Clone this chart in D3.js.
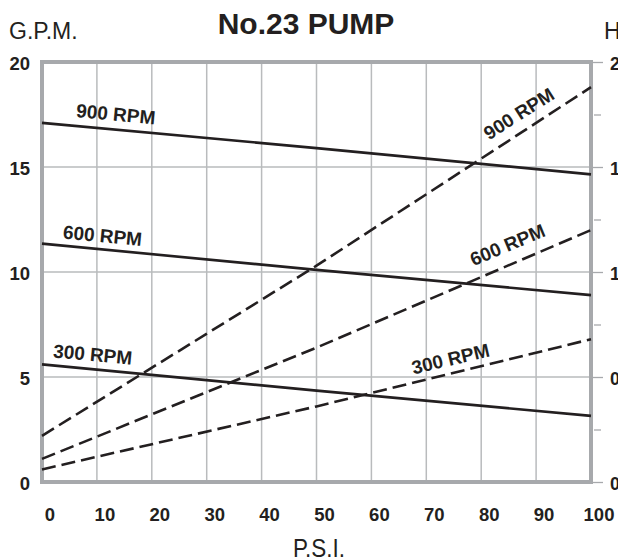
<!DOCTYPE html>
<html>
<head>
<meta charset="utf-8">
<script src="https://cdn.jsdelivr.net/npm/d3@7"></script>
<style>
  body { margin: 0; background: #fff; }
  svg { display: block; font-family: "Liberation Sans", Arial, Helvetica, sans-serif; }
</style>
</head>
<body>
<svg id="chart"></svg>
<script>
// data
const psi = [0, 50, 100];
const gpm900 = [17.1, 15.9, 14.65];
const gpm600 = [11.35, 10.1, 8.9];
const gpm300 = [5.6, 4.35, 3.15];
const hp900 = [0.22, 1.03, 1.88];
const hp600 = [0.11, 0.64, 1.2];
const hp300 = [0.06, 0.36, 0.68];
const rpmLabels = ['900 RPM', '600 RPM', '300 RPM'];
const psiTicks = [0, 10, 20, 30, 40, 50, 60, 70, 80, 90, 100];
const gpmTicks = [0, 5, 10, 15, 20];
const hpTicks = [0, 0.5, 1, 1.5, 2];
const hpMinor = [0.25, 0.75, 1.25, 1.75];

const width = 618, height = 560;
const ink = '#231f20', frame = '#a7a9ac', grid = '#b9bbbd';

const svg = d3.select('#chart')
  .attr('width', width)
  .attr('height', height);

const x = d3.scaleLinear().domain([0, 100]).range([42, 591]);
const y = d3.scaleLinear().domain([0, 20]).range([482, 62]);
const yHp = d3.scaleLinear().domain([0, 2]).range([482, 62]);

// grid
svg.append('g').selectAll('line')
  .data(psiTicks.slice(1, -1))
  .enter().append('line')
  .attr('x1', d => x(d)).attr('x2', d => x(d))
  .attr('y1', y(0)).attr('y2', y(20))
  .attr('stroke', grid).attr('stroke-width', 1.5);

svg.append('g').selectAll('line')
  .data(gpmTicks.slice(1, -1))
  .enter().append('line')
  .attr('x1', x(0)).attr('x2', x(100))
  .attr('y1', d => y(d)).attr('y2', d => y(d))
  .attr('stroke', grid).attr('stroke-width', 1.5);

// right axis ticks (HP)
const rightAxis = svg.append('g')
  .attr('transform', `translate(${x(100)},0)`)
  .call(d3.axisRight(yHp).tickValues(hpTicks).tickSize(12).tickFormat(d3.format('.1f')));
rightAxis.select('.domain').remove();
rightAxis.selectAll('line').attr('stroke', frame).attr('stroke-width', 1.3);
rightAxis.selectAll('text')
  .attr('x', 19).attr('dy', '0.4em')
  .attr('fill', ink).attr('font-size', 18).attr('font-weight', 'bold')
  .attr('font-family', '"Liberation Sans", Arial, sans-serif');

const minorAxis = svg.append('g')
  .attr('transform', `translate(${x(100) + 3},0)`)
  .call(d3.axisRight(yHp).tickValues(hpMinor).tickSize(7).tickFormat(''));
minorAxis.select('.domain').remove();
minorAxis.selectAll('line').attr('stroke', frame).attr('stroke-width', 1.3);

// frame
svg.append('rect')
  .attr('x', x(0)).attr('y', y(20))
  .attr('width', x(100) - x(0)).attr('height', y(0) - y(20))
  .attr('fill', 'none').attr('stroke', frame).attr('stroke-width', 4);

// left tick labels
svg.append('g').selectAll('text')
  .data(gpmTicks)
  .enter().append('text')
  .attr('x', 30).attr('y', d => y(d) + 8)
  .attr('text-anchor', 'end')
  .attr('font-size', 18.5).attr('font-weight', 'bold').attr('fill', ink)
  .text(d => d);

// bottom tick labels
svg.append('g').selectAll('text')
  .data(psiTicks)
  .enter().append('text')
  .attr('x', d => x(d) + 8).attr('y', 521)
  .attr('text-anchor', 'middle')
  .attr('font-size', 18.5).attr('font-weight', 'bold').attr('fill', ink)
  .text(d => d);

// titles
svg.append('text')
  .attr('x', 306).attr('y', 34)
  .attr('text-anchor', 'middle')
  .attr('font-size', 30).attr('font-weight', 'bold').attr('fill', ink)
  .text('No.23 PUMP');

svg.append('text')
  .attr('x', 9).attr('y', 39)
  .attr('font-size', 23).attr('fill', ink)
  .text('G.P.M.');

svg.append('text')
  .attr('x', 604).attr('y', 39)
  .attr('font-size', 23).attr('fill', ink)
  .text('HP');

svg.append('text')
  .attr('x', 319).attr('y', 557)
  .attr('text-anchor', 'middle')
  .attr('font-size', 26).attr('fill', ink)
  .attr('textLength', 52).attr('lengthAdjust', 'spacingAndGlyphs')
  .text('P.S.I.');

// curves
const gpmSeries = [gpm900, gpm600, gpm300];
const hpSeries = [hp900, hp600, hp300];

const lineGpm = d3.line().x((d, i) => x(psi[i])).y(d => y(d));
const lineHp = d3.line().x((d, i) => x(psi[i])).y(d => yHp(d));

svg.append('g').selectAll('path')
  .data(gpmSeries)
  .enter().append('path')
  .attr('d', lineGpm)
  .attr('fill', 'none').attr('stroke', ink).attr('stroke-width', 2.6);

svg.append('g').selectAll('path')
  .data(hpSeries)
  .enter().append('path')
  .attr('d', lineHp)
  .attr('fill', 'none').attr('stroke', ink).attr('stroke-width', 2.6)
  .attr('stroke-dasharray', '14,6');

// labels sitting along each line
const at = (vals, p) => d3.scaleLinear().domain(psi).range(vals)(p);
const angle = (vals, sc) => Math.atan2(sc(vals[2]) - sc(vals[0]), x(100) - x(0)) * 180 / Math.PI;

function addLabel(vals, sc, p, off, txt) {
  const px = x(p), py = sc(at(vals, p));
  svg.append('text')
    .attr('transform', `translate(${px},${py}) rotate(${angle(vals, sc)})`)
    .attr('x', 0).attr('y', -off)
    .attr('font-size', 19).attr('font-weight', 'bold').attr('fill', ink)
    .text(txt);
}

addLabel(gpm900, y, 6, 9, rpmLabels[0]);
addLabel(gpm600, y, 3.6, 7, rpmLabels[1]);
addLabel(gpm300, y, 1.8, 8, rpmLabels[2]);
addLabel(hp900, yHp, 82.5, 11, rpmLabels[0]);
addLabel(hp600, yHp, 79.5, 13, rpmLabels[1]);
addLabel(hp300, yHp, 68, 8, rpmLabels[2]);
</script>
</body>
</html>
